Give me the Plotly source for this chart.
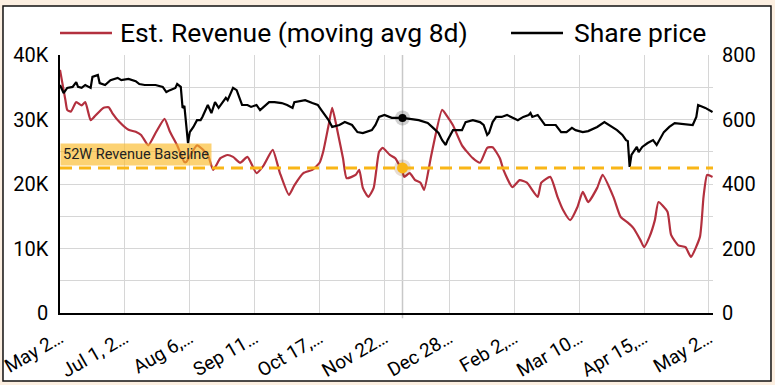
import pandas as pd
import plotly.graph_objects as go

START = "2024-05-26"

# Est. Revenue (moving avg 8d): day offset from START, value
rev_days = [0,3,4,6,9,12,14,17,19,24,27,29,33,38,42,45,49,53,58,61,
            65,69,70,76,82,85,89,93,96,100,104,109,113,118,122,127,130,135,140,144,
            146,149,151,154,157,159,164,166,168,171,174,177,179,183,186,190,191,194,197,200,
            202,206,212,215,218,223,229,233,237,240,244,246,251,255,259,265,267,272,276,279,
            283,287,290,293,298,301,307,311,315,318,322,324,327,330,332,337,339,343,347,350,
            355,357,359,362]
rev_values = [37700,33000,31500,31200,32700,32200,32700,29900,30400,31800,
              31900,31000,29600,28400,28100,27600,26000,27900,30100,28100,
              26000,23400,23400,26000,24500,22200,24000,24500,24200,23300,
              24200,21700,22900,25300,21700,18300,19800,21700,22200,23300,
              25000,29100,31800,28100,24000,20900,21400,22200,19400,18000,
              19400,25000,25600,24500,24000,21900,21100,21700,20600,20200,
              19100,24500,31500,30400,29100,26000,24000,23300,25600,25700,
              24000,22200,19500,20600,20200,18000,20200,21100,18000,16000,
              14400,16400,18800,17200,19400,21400,18000,14900,14000,13200,
              11300,10200,11800,14400,17200,15700,12100,10500,10200,8700,
              11800,18000,21400,21100]

# Share price: day offset from START, value
price_days = [0,2,4,7,9,10,12,14,17,18,21,22,25,28,32,34,38,42,44,47,
              50,53,57,59,61,64,65,67,68,69,71,72,74,76,78,79,82,84,86,88,
              92,93,96,98,101,104,106,109,111,113,116,119,123,126,129,130,136,140,143,145,
              149,151,155,158,162,165,168,173,175,177,180,184,190,199,204,207,210,212,214,215,
              218,223,225,229,233,235,237,238,240,242,245,248,252,254,257,260,261,262,265,269,
              275,278,281,284,286,290,293,298,302,306,309,312,314,315,316,317,320,321,323,326,
              329,331,335,338,341,351,353,354,358,362]
price_values = [707,682,698,701,716,701,698,707,698,732,738,713,707,722,729,722,726,719,710,707,
                707,707,701,685,691,698,710,701,636,642,527,561,577,598,598,608,645,620,654,636,
                667,660,698,691,645,645,639,645,629,639,654,654,651,645,636,654,660,651,645,629,
                598,577,583,592,583,561,558,567,583,608,614,605,605,598,589,574,558,536,521,536,
                567,567,592,598,592,583,552,558,592,608,608,614,605,598,608,614,620,608,614,583,
                583,561,561,574,567,561,564,577,592,577,567,552,536,533,453,490,515,499,515,527,
                536,521,561,577,589,583,608,645,636,623]

baseline_value = 22500
baseline_label = "52W Revenue Baseline"
highlight_date = "2024-12-02"
highlight_price = 605

tick_dates = ["2024-05-26","2024-07-01","2024-08-06","2024-09-11","2024-10-17","2024-11-22",
              "2024-12-28","2025-02-02","2025-03-10","2025-04-15","2025-05-21"]
tick_text = ["May 2…","Jul 1, 2…","Aug 6,…","Sep 11…","Oct 17,…","Nov 22…",
             "Dec 28…","Feb 2,…","Mar 10…","Apr 15,…","May 2…"]
left_ticks = [0,10000,20000,30000,40000]
left_text = ["0","10K","20K","30K","40K"]
right_ticks = [0,200,400,600,800]

start = pd.Timestamp(START)
rev_dates = start + pd.to_timedelta(rev_days, unit="D")
price_dates = start + pd.to_timedelta(price_days, unit="D")

RED = "#b3303e"
GOLD = "#f9b617"
GRID = "#d6d6d6"
PEACH = "#fcefe1"
FONT = "Roboto"

fig = go.Figure()
fig.add_trace(go.Scatter(x=rev_dates, y=rev_values, mode="lines", name="Est. Revenue (moving avg 8d)",
                         line=dict(color=RED, width=2.2, shape="spline", smoothing=0.5), showlegend=False))
fig.add_trace(go.Scatter(x=price_dates, y=price_values, mode="lines", name="Share price", yaxis="y2",
                         line=dict(color="#000000", width=2.2), showlegend=False))
# highlight markers (with soft shadow)
fig.add_trace(go.Scatter(x=[highlight_date], y=[highlight_price], yaxis="y2", mode="markers",
                         marker=dict(size=15, color="rgba(0,0,0,0.18)"), showlegend=False, hoverinfo="skip"))
fig.add_trace(go.Scatter(x=[highlight_date], y=[highlight_price], yaxis="y2", mode="markers",
                         marker=dict(size=8, color="#000000"), showlegend=False, hoverinfo="skip"))
fig.add_trace(go.Scatter(x=[highlight_date], y=[baseline_value], mode="markers",
                         marker=dict(size=17, color="rgba(120,60,0,0.18)"), showlegend=False, hoverinfo="skip"))
fig.add_trace(go.Scatter(x=[highlight_date], y=[baseline_value], mode="markers",
                         marker=dict(size=11, color=GOLD), showlegend=False, hoverinfo="skip"))

# panel frame
fig.add_shape(type="rect", xref="paper", yref="paper", x0=-0.0873, x1=1.0888, y0=-0.2636, y1=1.1899,
              fillcolor="white", line=dict(color="#111111", width=1.5), layer="below")
# highlight vertical line
fig.add_shape(type="line", xref="x", yref="paper", x0=highlight_date, x1=highlight_date, y0=-0.02, y1=1,
              line=dict(color="#c8c8c8", width=1.5), layer="below")
# baseline
fig.add_shape(type="line", xref="paper", yref="y", x0=0, x1=1, y0=baseline_value, y1=baseline_value,
              line=dict(color=GOLD, width=3, dash="12px,7px"))
fig.add_annotation(xref="paper", yref="y", x=0, y=24600, xanchor="left", yanchor="middle",
                   text=baseline_label, showarrow=False, font=dict(family=FONT, size=14.5, color="#222222"),
                   bgcolor="rgba(250,186,40,0.65)", borderpad=2)

# legend (drawn manually to match line sample length)
LY = 1.0853
fig.add_shape(type="line", xref="paper", yref="paper", x0=0.0, x1=0.0796, y0=LY, y1=LY,
              line=dict(color=RED, width=2.5))
fig.add_annotation(xref="paper", yref="paper", x=0.0895, y=LY, xanchor="left", yanchor="middle",
                   text="Est. Revenue (moving avg 8d)", showarrow=False,
                   font=dict(family=FONT, size=26.5, color="#000000"))
fig.add_shape(type="line", xref="paper", yref="paper", x0=0.6907, x1=0.7703, y0=LY, y1=LY,
              line=dict(color="#000000", width=2.5))
fig.add_annotation(xref="paper", yref="paper", x=0.7835, y=LY, xanchor="left", yanchor="middle",
                   text="Share price", showarrow=False,
                   font=dict(family=FONT, size=26.5, color="#000000"))

fig.update_layout(
    width=775, height=385,
    margin=dict(l=60, r=62, t=55, b=72, autoexpand=False),
    paper_bgcolor=PEACH,
    plot_bgcolor="rgba(0,0,0,0)",
    font=dict(family=FONT, color="#000000"),
    showlegend=False,
    hovermode=False,
    xaxis=dict(type="date", range=["2024-05-26", "2025-05-23 06:00"], automargin=False,
               tickvals=tick_dates, ticktext=tick_text, tickangle=-30,
               tickfont=dict(family=FONT, size=19, color="#000000"),
               showgrid=True, gridcolor=GRID, gridwidth=1,
               showline=True, linecolor="#000000", linewidth=1.5, zeroline=False, ticks="",
               ticklabelstandoff=5),
    yaxis=dict(range=[0, 40000], tickvals=left_ticks, ticktext=left_text, automargin=False,
               tickfont=dict(family=FONT, size=20, color="#000000"),
               showgrid=True, gridcolor=GRID, gridwidth=1,
               minor=dict(tickvals=[5000, 15000, 25000, 35000], showgrid=True, gridcolor=GRID, gridwidth=1),
               showline=True, linecolor="#000000", linewidth=1.5, zeroline=False, ticks="",
               ticklabelstandoff=6),
    yaxis2=dict(range=[0, 800], tickvals=right_ticks, overlaying="y", side="right", automargin=False,
                tickfont=dict(family=FONT, size=20, color="#000000"),
                showgrid=False, showline=False, zeroline=False, ticks="", ticklabelstandoff=8),
)

fig.write_html("out.html", config={"displayModeBar": False},
               post_script="document.body.style.margin='0px';document.body.style.background='%s';" % PEACH)
